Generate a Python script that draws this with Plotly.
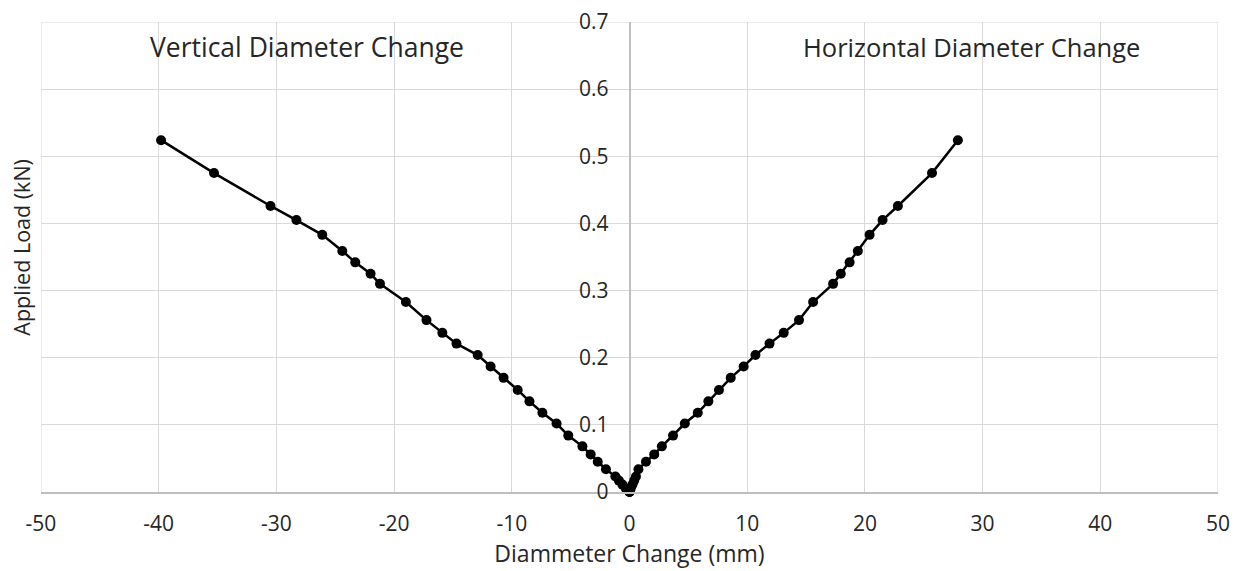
import plotly.graph_objects as go

load_kn = [0, 0.005, 0.011, 0.017, 0.023, 0.034, 0.045, 0.056, 0.068, 0.084,
           0.102, 0.118, 0.135, 0.152, 0.170, 0.187, 0.204, 0.221, 0.237, 0.256,
           0.283, 0.310, 0.325, 0.342, 0.359, 0.383, 0.405, 0.426, 0.475, 0.524]
vertical_change = [0, -0.3, -0.6, -0.9, -1.2, -2.0, -2.7, -3.3, -4.0, -5.2,
                   -6.2, -7.4, -8.5, -9.5, -10.7, -11.8, -12.9, -14.7, -15.9, -17.25,
                   -19.0, -21.2, -22.0, -23.3, -24.4, -26.1, -28.3, -30.5, -35.3, -39.8]
horizontal_change = [0, 0.1, 0.25, 0.4, 0.55, 0.76, 1.4, 2.1, 2.75, 3.7,
                     4.7, 5.8, 6.7, 7.6, 8.6, 9.7, 10.7, 11.9, 13.1, 14.4,
                     15.6, 17.3, 17.95, 18.7, 19.4, 20.4, 21.5, 22.8, 25.7, 27.9]
x_ticks = [-50, -40, -30, -20, -10, 0, 10, 20, 30, 40, 50]
y_ticks = [0, 0.1, 0.2, 0.3, 0.4, 0.5, 0.6, 0.7]
y_tick_text = ["0", "0.1", "0.2", "0.3", "0.4", "0.5", "0.6", "0.7"]

FONT = "Open Sans"
fig = go.Figure()
for xs in (vertical_change, horizontal_change):
    fig.add_trace(go.Scatter(
        x=xs, y=load_kn, mode="lines+markers",
        line=dict(color="black", width=2.5),
        marker=dict(color="black", size=10),
        showlegend=False, cliponaxis=False))

# page body has an 8px default margin, so the figure is sized to fit inside it
fig.update_layout(
    width=1236, height=563,
    margin=dict(l=33, r=26, t=14, b=79),
    paper_bgcolor="white", plot_bgcolor="white",
    font=dict(family=FONT, size=21, color="#262626"),
    xaxis=dict(range=[-50, 50], tickvals=x_ticks, ticktext=[str(t) for t in x_ticks],
               showgrid=True, gridcolor="#d9d9d9", gridwidth=1,
               zeroline=True, zerolinecolor="#bfbfbf", zerolinewidth=2,
               showline=True, linecolor="#bfbfbf", linewidth=2,
               ticks="", ticklabelstandoff=12, mirror=False, automargin=False,
               ticklabeloverflow="allow",
               title=dict(text="Diammeter Change (mm)", font=dict(size=23), standoff=4)),
    yaxis=dict(range=[0, 0.7], tickvals=y_ticks, ticktext=y_tick_text,
               showgrid=True, gridcolor="#d9d9d9", gridwidth=1,
               zeroline=False, showline=False, automargin=False,
               anchor="free", position=0.5, ticklabeloverflow="allow",
               ticks="", ticklabelstandoff=21),
)
fig.add_shape(type="line", xref="x", yref="paper", x0=-50, x1=-50, y0=0, y1=1,
              line=dict(color="#d9d9d9", width=1), layer="below")
fig.add_shape(type="line", xref="x", yref="paper", x0=50, x1=50, y0=0, y1=1,
              line=dict(color="#d9d9d9", width=1), layer="below")
fig.add_shape(type="line", xref="paper", yref="y", x0=0, x1=1, y0=0.7, y1=0.7,
              line=dict(color="#d9d9d9", width=1), layer="below")

fig.add_annotation(text="Vertical Diameter Change", xref="x", yref="y", x=-40.9, y=0.663,
                   xanchor="left", yanchor="middle", showarrow=False, font=dict(size=26.5))
fig.add_annotation(text="Horizontal Diameter Change", xref="x", yref="y", x=14.6, y=0.663,
                   xanchor="left", yanchor="middle", showarrow=False, font=dict(size=25.5))
fig.add_annotation(text="Applied Load (kN)", xref="paper", yref="paper", x=-0.0161, y=0.52,
                   xanchor="center", yanchor="middle", textangle=-90, showarrow=False,
                   font=dict(size=21.5))

fig.write_html("out.html")
